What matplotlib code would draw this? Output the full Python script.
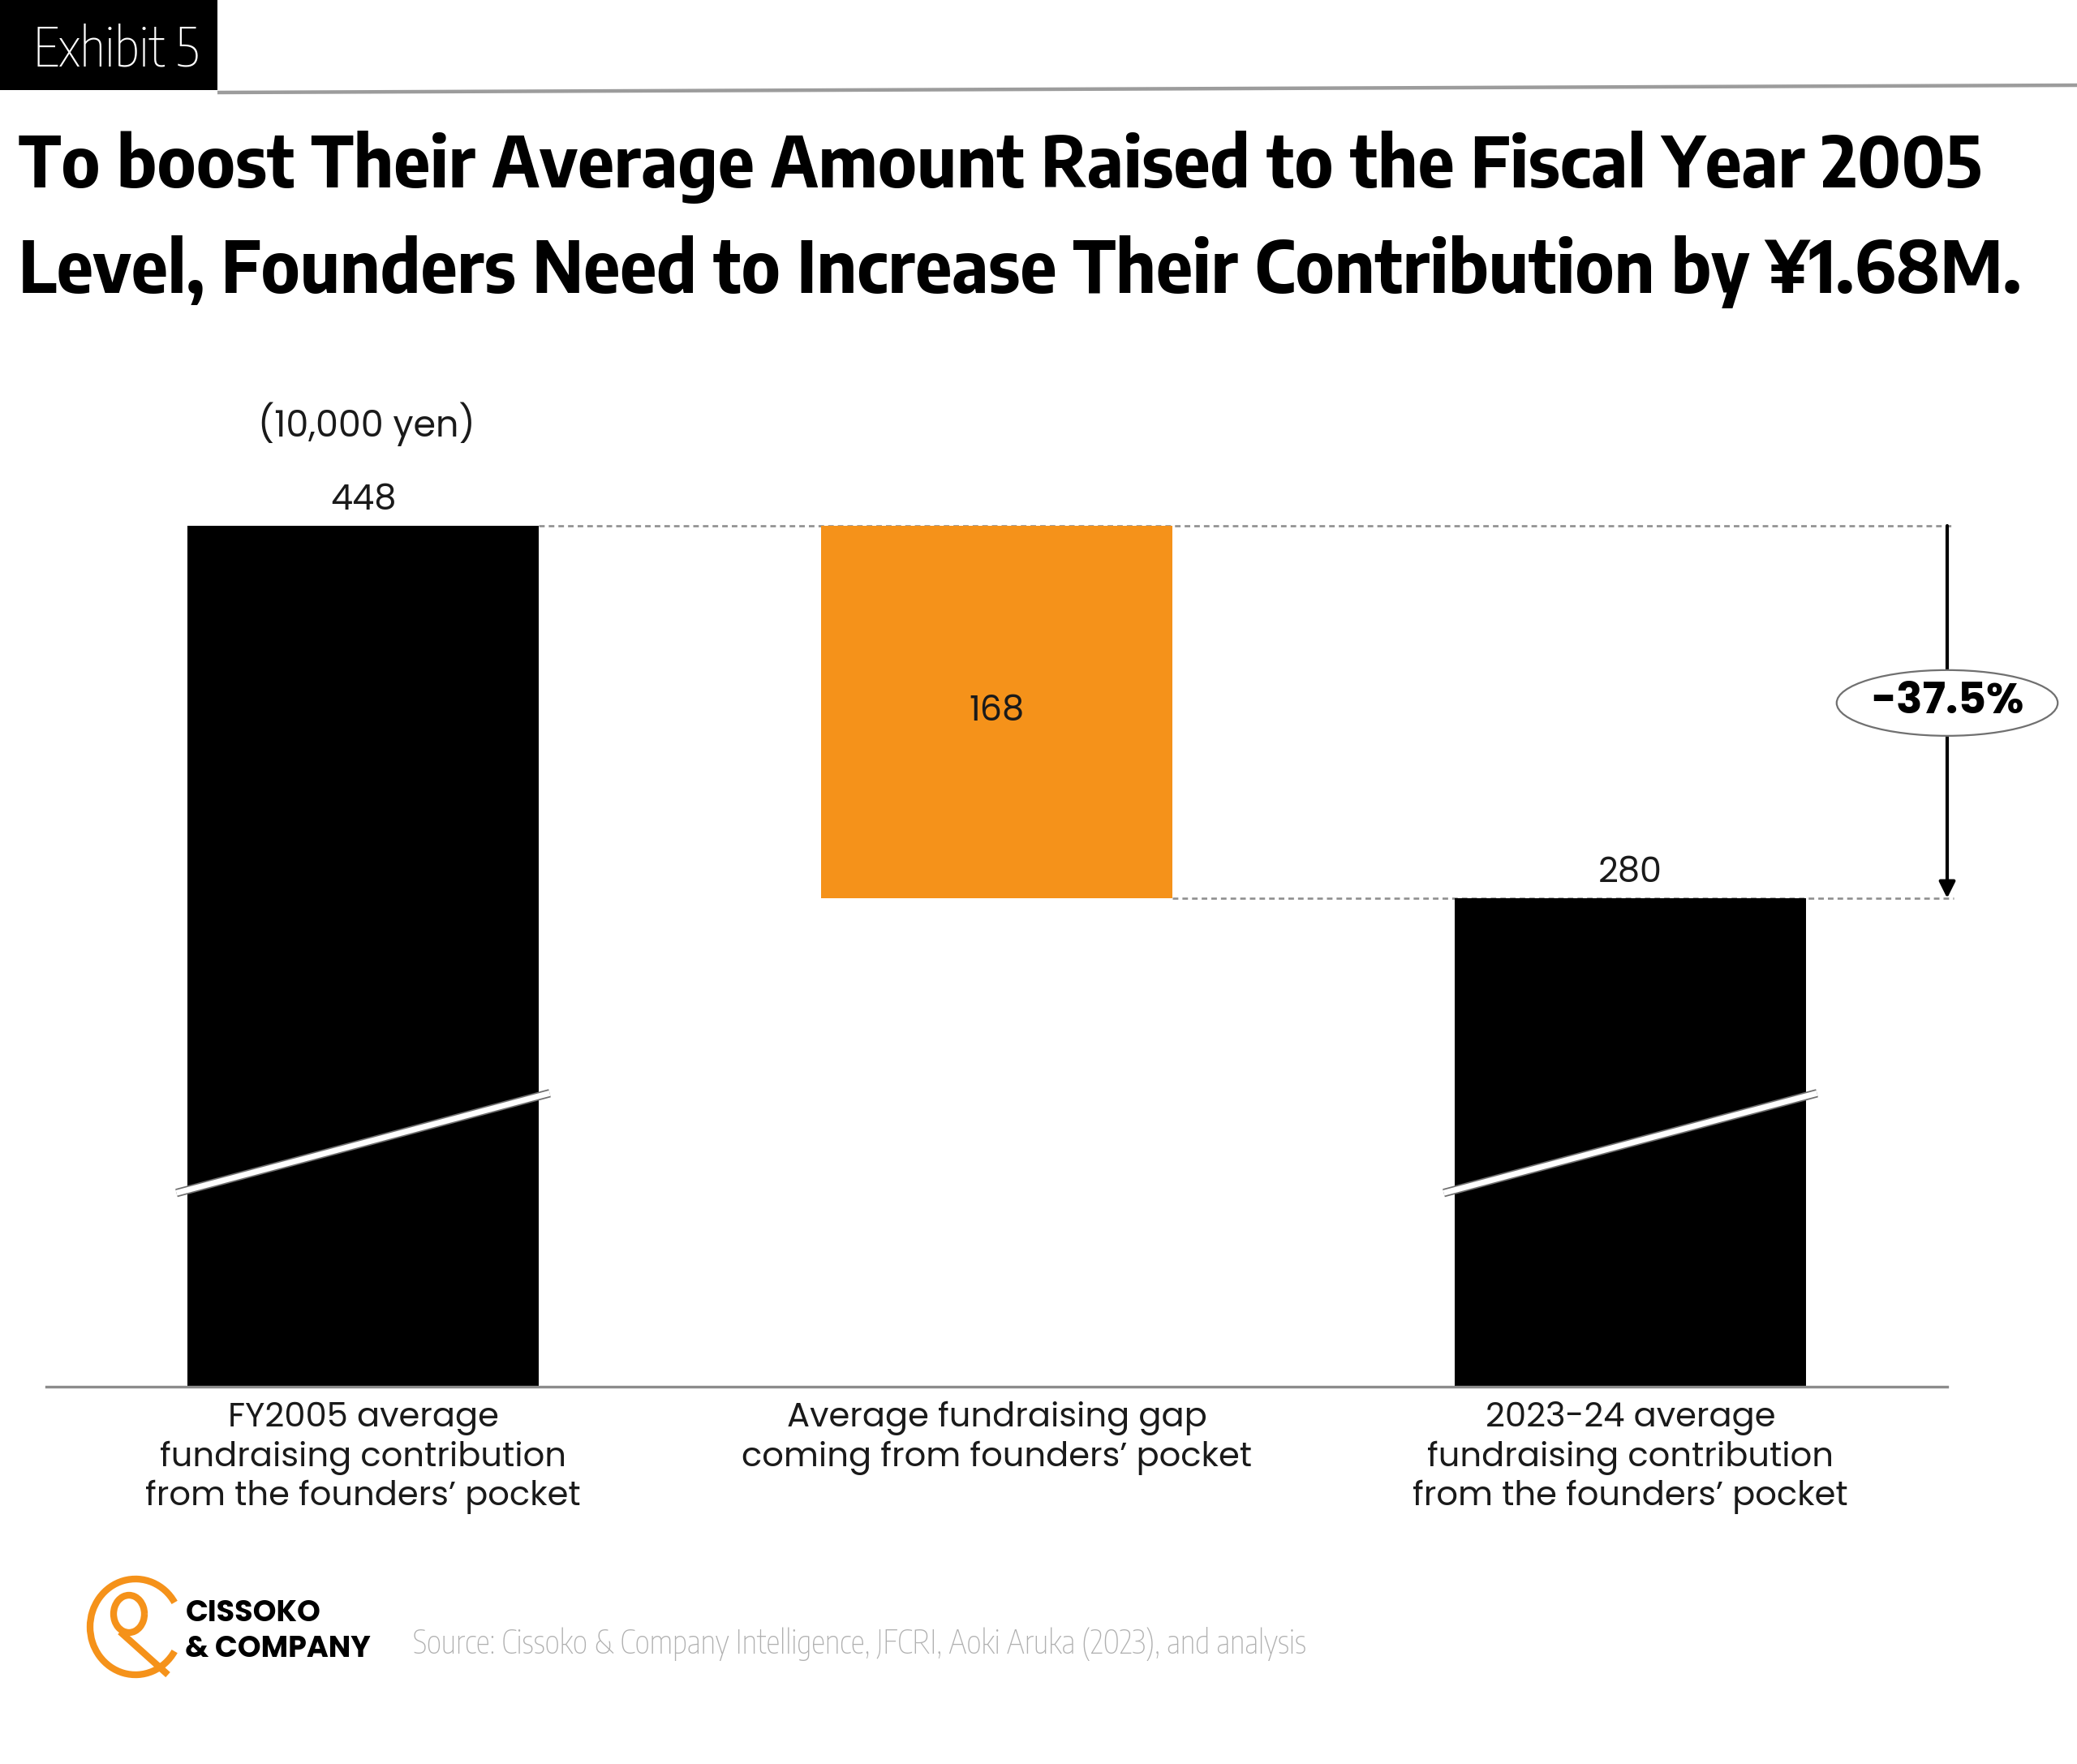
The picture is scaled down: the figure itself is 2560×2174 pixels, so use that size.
import matplotlib
matplotlib.use("Agg")
import os
import numpy as np
import matplotlib.pyplot as plt
from matplotlib import font_manager as fm
from matplotlib.patches import Rectangle, Arc
import matplotlib.patheffects as pe

# ---------------- data ----------------
categories = [
    "FY2005 average\nfundraising contribution\nfrom the founders’ pocket",
    "Average fundraising gap\ncoming from founders’ pocket",
    "2023-24 average\nfundraising contribution\nfrom the founders’ pocket",
]
fy2005_value = 448
gap_value = 168
recent_value = 280
change_label = "-37.5%"
unit_label = "(10,000 yen)"
title_lines = [
    "To boost Their Average Amount Raised to the Fiscal Year 2005",
    "Level, Founders Need to Increase Their Contribution by ¥1.68M.",
]
exhibit_label = "Exhibit 5"
source_text = "Source: Cissoko & Company Intelligence, JFCRI, Aoki Aruka (2023), and analysis"
logo_lines = ["CISSOKO", "& COMPANY"]

values = [fy2005_value, gap_value, recent_value]
bottoms = [0, recent_value, 0]

# ---------------- fonts ----------------
TTF = fm.fontManager.ttflist
NAMES = {f.name for f in TTF}
def pick(*cands):
    for n in cands:
        if n in NAMES:
            return n
    return "DejaVu Sans"

def static_weights(name):
    return {int(f.weight) if str(f.weight).isdigit() else f.weight
            for f in TTF if f.name == name and f.style == "normal"
            and "[" not in os.path.basename(f.fname)}

def pick_static(cands, need=(400, 700)):
    for n in cands:
        w = static_weights(n)
        if all(x in w for x in need):
            return n
    return "DejaVu Sans"

MF = pick_static(["Montserrat", "Poppins", "Figtree", "Red Hat Display", "Mulish", "Work Sans", "Lato"])
TF = pick("Encode Sans Semi Condensed", "Encode Sans Condensed", "Barlow Semi Condensed",
          "Open Sans Condensed", "Roboto Condensed", "DejaVu Sans")
LF = pick("Encode Sans Condensed", "Barlow Condensed", "Open Sans Condensed", "Roboto Condensed",
          "DejaVu Sans")

BLACK = "#000000"
ORANGE = "#F5921A"
TXT = "#1a1a1a"
W, H = 2560, 2174
fig = plt.figure(figsize=(W / 100, H / 100), dpi=100)
fig.patch.set_facecolor("white")

ov = fig.add_axes([0, 0, 1, 1], zorder=0)
ov.set_xlim(0, W)
ov.set_ylim(H, 0)
ov.axis("off")

renderer = fig.canvas.get_renderer()
def fit(t, width_px):
    bb = t.get_window_extent(renderer)
    t.set_fontsize(t.get_fontsize() * width_px / bb.width)
    return t

# header
ov.add_patch(Rectangle((0, 0), 268, 111, color=BLACK, lw=0))
ov.plot([268, W], [114, 105], color="#9c9c9c", lw=3.2, solid_capstyle="butt")
fit(ov.text(41, 82, exhibit_label, color="white", family=LF, fontweight="light",
            fontsize=30, va="baseline", ha="left"), 204)

fit(ov.text(23, 231, title_lines[0], family=TF, fontweight="bold", fontsize=60,
            va="baseline", ha="left", color=BLACK), 2418)
fit(ov.text(23, 361, title_lines[1], family=TF, fontweight="bold", fontsize=60,
            va="baseline", ha="left", color=BLACK), 2467)

# footer: logo + source
ov.add_patch(Arc((167, 2005), 112, 118, theta1=32, theta2=328, color=ORANGE, lw=6))
ov.add_patch(Arc((159, 1989), 38, 46, theta1=0, theta2=360, color=ORANGE, lw=6))
ov.plot([148, 207], [2011, 2064], color=ORANGE, lw=6, solid_capstyle="butt")
c2 = fit(ov.text(228, 2042, logo_lines[1], family=MF, fontweight="bold", fontsize=22,
                 va="baseline", ha="left", color=BLACK), 229)
ov.text(229, 1998, logo_lines[0], family=MF, fontweight="bold", fontsize=c2.get_fontsize(),
        va="baseline", ha="left", color=BLACK)
fit(ov.text(509, 2038, source_text, family=LF, fontweight="light", fontsize=18,
            va="baseline", ha="left", color="#b0b0b0"), 1101)

# ---------------- chart ----------------
AXIS_FLOOR = 59.6   # broken axis: baseline does not start at zero
AXIS_TOP = 484.6
ax = fig.add_axes([57 / W, 1 - 1709 / H, (2400 - 57) / W, (1709 - 548) / H], zorder=2)
ax.patch.set_alpha(0)
x = np.arange(len(values))
bw = 0.555
ax.bar(x, values, bottom=bottoms, width=bw, color=[BLACK, ORANGE, BLACK], zorder=3)
ax.set_xlim(-0.5, 2.5)
ax.set_ylim(AXIS_FLOOR, AXIS_TOP)
for s in ("left", "right", "top"):
    ax.spines[s].set_visible(False)
ax.spines["bottom"].set_color("#8c8c8c")
ax.spines["bottom"].set_linewidth(2.4)
ax.spines["bottom"].set_zorder(4)
ax.set_yticks([])
ax.set_xticks(x, categories)
ax.tick_params(axis="x", length=0, pad=13)
for lab in ax.get_xticklabels():
    lab.set_fontfamily(MF)
    lab.set_fontsize(30)
    lab.set_color(TXT)
    lab.set_linespacing(1.2)

# axis-break marks on the black bars
for i in (0, 2):
    ax.plot([i - bw / 2 - 0.017, i + bw / 2 + 0.017], [147, 192], color="white", lw=5.0,
            solid_capstyle="butt", zorder=4,
            path_effects=[pe.Stroke(linewidth=7.5, foreground="#6e6e6e"), pe.Normal()])

# dotted connectors
dot = dict(color="#8f8f8f", lw=1.9, ls=(0, (2.6, 1.9)), zorder=2, clip_on=False)
ax.plot([0 + bw / 2, 2.51], [fy2005_value] * 2, **dot)
ax.plot([1 + bw / 2, 2.51], [recent_value] * 2, **dot)

# change arrow + ellipse label
ax.annotate("", xy=(2.5, recent_value), xytext=(2.5, fy2005_value),
            arrowprops=dict(arrowstyle="-|>,head_length=0.6,head_width=0.3", color=BLACK, lw=3,
                            mutation_scale=20, shrinkA=0, shrinkB=0),
            annotation_clip=False, zorder=5)
ax.annotate(change_label, xy=(2.5, (fy2005_value + recent_value) / 2), xytext=(0, 8),
            textcoords="offset points", ha="center", va="center", fontsize=38.5, fontweight="bold",
            family=MF, color=BLACK, annotation_clip=False, zorder=6,
            bbox=dict(boxstyle="ellipse,pad=0.04", fc="white", ec="#707070", lw=1.6))

# value labels
for i in (0, 2):
    ax.annotate(str(values[i]), xy=(x[i], bottoms[i] + values[i]), xytext=(0, 22),
                textcoords="offset points", ha="center", va="center", fontsize=31,
                family=MF, color=TXT, annotation_clip=False)
ax.text(x[1], bottoms[1] + values[1] / 2, str(values[1]), ha="center", va="center",
        fontsize=31, family=MF, color=TXT, zorder=5)
ax.annotate(unit_label, xy=(x[0], fy2005_value), xytext=(3, 90),
            textcoords="offset points", ha="center", va="center", fontsize=32,
            family=MF, color=TXT, annotation_clip=False)

fig.savefig("out.png", dpi=100)
